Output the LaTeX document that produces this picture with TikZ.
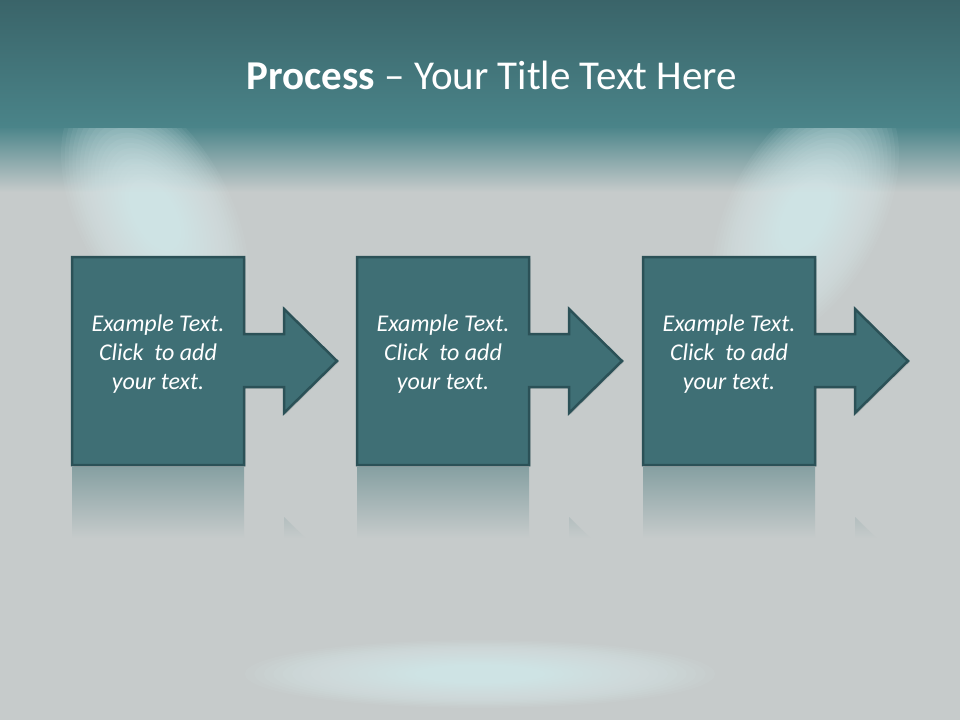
\documentclass[tikz,border=0pt]{standalone}
\usepackage{fontspec}
\setmainfont{Carlito}
\usetikzlibrary{shadows}

\definecolor{bandtop}{HTML}{3A6469}
\definecolor{bandbot}{HTML}{4A8489}
\definecolor{stagebg}{HTML}{C6CBCB}
\definecolor{spotcol}{HTML}{DCF1F3}
\definecolor{stepfill}{HTML}{3F6F75}
\definecolor{stepline}{HTML}{2B5157}
\definecolor{reflcol}{HTML}{86A0A2}

\tikzset{
  stepshape/.style={fill=stepfill, draw=stepline, line width=2.5pt, line join=miter,
    drop shadow={shadow xshift=1.5pt, shadow yshift=-1.5pt, opacity=.25}},
  steptext/.style={text=white, align=center, font=\fontsize{24}{29}\selectfont\itshape},
  titletext/.style={text=white, font=\fontsize{41}{48}\selectfont},
  spot/.style={fill=spotcol, opacity=.065},
}

\begin{document}
\begin{tikzpicture}[x=1pt,y=-1pt]
  \useasboundingbox (0,0) rectangle (960,720);

  % stage
  \fill[stagebg] (0,0) rectangle (960,720);
  \shade[top color=bandbot, bottom color=stagebg] (0,126) rectangle (960,192);

  % spotlights
  \foreach \s in {1,.96,...,.25} {
    \begin{scope}[shift={(155,215)}, rotate=28]
      \fill[spot] (0,0) ellipse ({76*\s} and {140*\s});
    \end{scope}
    \begin{scope}[shift={(805,215)}, rotate=-28]
      \fill[spot] (0,0) ellipse ({76*\s} and {140*\s});
    \end{scope}
    \fill[spot] (480,674) ellipse ({235*\s} and {34*\s});
  }

  % header band
  \shade[top color=bandtop, bottom color=bandbot] (0,0) rectangle (960,127);
  \node[titletext] (title) at (492,75) {\textbf{Process} – Your Title Text Here};

  % three steps with reflections
  \foreach \i/\dx in {1/0,2/285,3/571} {
    \begin{scope}[shift={(\dx,0)}]
      \begin{scope}
        \clip (72,467) -- (244,467) -- (244,543) -- (284,543) -- (284,517)
          -- (337,569) -- (284,621) -- (284,595) -- (244,595) -- (244,673)
          -- (72,673) -- cycle;
        \shade[top color=reflcol, bottom color=stagebg] (60,467) rectangle (345,538);
      \end{scope}
      \draw[stepshape] (72,257) -- (244,257) -- (244,334) -- (284,334) -- (284,309)
        -- (337,361) -- (284,413) -- (284,387) -- (244,387) -- (244,465)
        -- (72,465) -- cycle;
      \node[steptext] (step\i) at (158,354) {Example Text.\\Click~ to add\\your text.};
    \end{scope}
  }
\end{tikzpicture}
\end{document}
